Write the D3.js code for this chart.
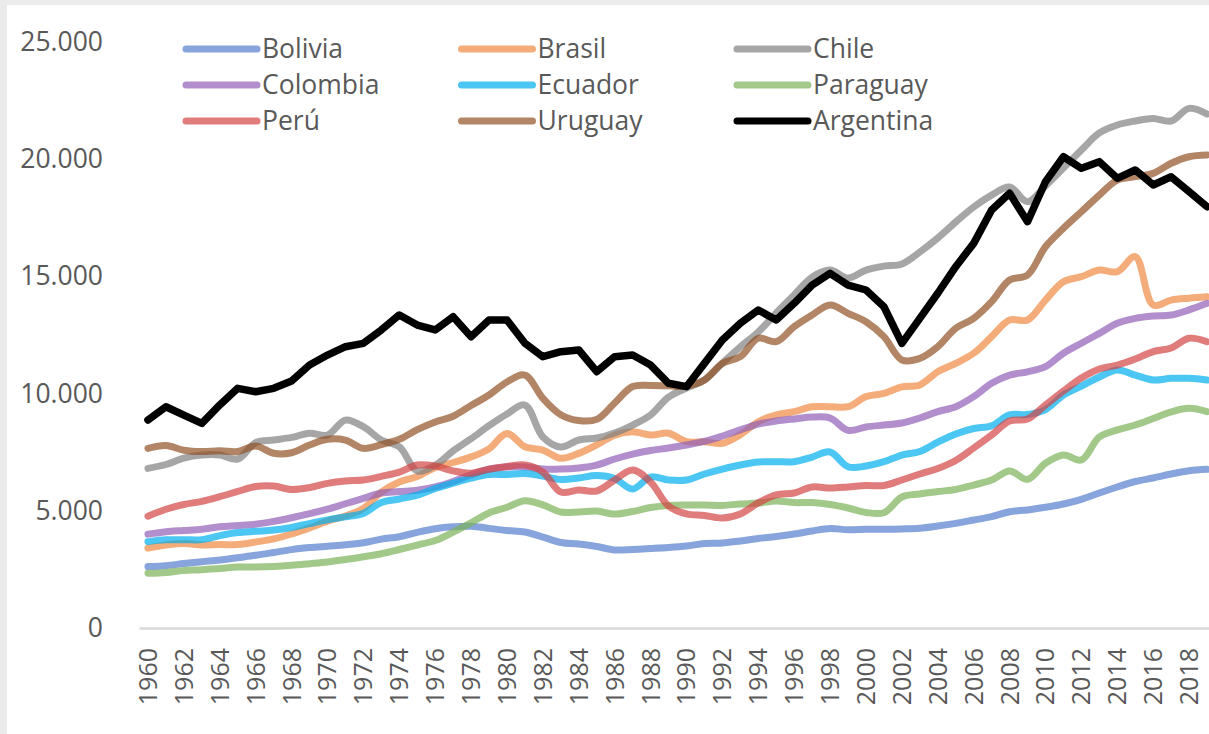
<!DOCTYPE html>
<html>
<head>
<meta charset="utf-8">
<script src="https://cdn.jsdelivr.net/npm/d3@7"></script>
<style>
    html, body { margin: 0; padding: 0; background: #ebebeb; }
    svg { display: block; }
    text { font-family: "Open Sans", sans-serif; fill: #595959; }
</style>
</head>
<body>
<svg id="chart" width="1209" height="734"></svg>
<script>
"use strict";

var years = d3.range(1960, 2020);
var yTicks = [0, 5000, 10000, 15000, 20000, 25000];

var bolivia = [2620, 2660, 2750, 2830, 2900, 3000, 3100, 3220, 3345, 3430,
    3490, 3550, 3640, 3790, 3895, 4080, 4235, 4315, 4340, 4250,
    4160, 4095, 3880, 3650, 3585, 3475, 3330, 3350, 3390, 3435,
    3500, 3605, 3625, 3710, 3820, 3905, 4010, 4140, 4245, 4190,
    4210, 4210, 4225, 4255, 4350, 4465, 4605, 4750, 4960, 5035,
    5150, 5290, 5490, 5760, 6015, 6250, 6400, 6570, 6710, 6770];
var brasil = [3410, 3540, 3610, 3540, 3560, 3560, 3670, 3800, 4010, 4270,
    4560, 4780, 5100, 5800, 6230, 6460, 6850, 7060, 7300, 7640,
    8300, 7730, 7590, 7240, 7450, 7810, 8230, 8370, 8230, 8310,
    7950, 7950, 7880, 8250, 8800, 9090, 9230, 9440, 9440, 9440,
    9870, 10010, 10290, 10370, 10930, 11290, 11720, 12430, 13140, 13140,
    13990, 14770, 14990, 15270, 15200, 15840, 13780, 13990, 14070, 14130];
var chile = [6810, 6975, 7250, 7380, 7380, 7210, 7910, 8020, 8130, 8310,
    8230, 8870, 8590, 8020, 7730, 6700, 6945, 7555, 8075, 8630,
    9130, 9510, 8150, 7720, 8020, 8105, 8320, 8660, 9090, 9850,
    10240, 10580, 11300, 11990, 12630, 13440, 14210, 14970, 15270, 14930,
    15270, 15440, 15530, 16040, 16640, 17320, 17960, 18470, 18810, 18190,
    18860, 19620, 20390, 21120, 21460, 21630, 21740, 21630, 22170, 21930];
var colombia = [4005, 4110, 4160, 4210, 4320, 4370, 4430, 4550, 4705, 4880,
    5070, 5300, 5530, 5760, 5820, 5880, 6020, 6250, 6540, 6780,
    6870, 6870, 6780, 6780, 6830, 6950, 7210, 7420, 7570, 7680,
    7810, 7960, 8190, 8450, 8700, 8830, 8920, 9000, 8960, 8430,
    8575, 8660, 8745, 8960, 9230, 9440, 9870, 10440, 10790, 10930,
    11150, 11720, 12150, 12570, 13000, 13210, 13310, 13350, 13570, 13850];
var ecuador = [3685, 3760, 3770, 3770, 3940, 4070, 4125, 4180, 4290, 4455,
    4615, 4740, 4890, 5355, 5505, 5665, 5950, 6180, 6390, 6545,
    6550, 6590, 6480, 6335, 6400, 6505, 6380, 5930, 6440, 6315,
    6315, 6570, 6780, 6955, 7080, 7095, 7095, 7295, 7510, 6880,
    6910, 7095, 7380, 7530, 7930, 8280, 8510, 8630, 9090, 9110,
    9320, 9940, 10320, 10710, 11010, 10790, 10580, 10650, 10650, 10580];
var paraguay = [2335, 2370, 2455, 2485, 2540, 2600, 2600, 2625, 2675, 2745,
    2820, 2920, 3040, 3170, 3350, 3540, 3730, 4090, 4490, 4910,
    5150, 5430, 5250, 4950, 4950, 4990, 4860, 4970, 5140, 5230,
    5250, 5250, 5230, 5290, 5330, 5420, 5350, 5350, 5270, 5120,
    4930, 4920, 5590, 5720, 5820, 5910, 6100, 6310, 6700, 6340,
    7030, 7380, 7170, 8150, 8450, 8660, 8940, 9220, 9370, 9230];
var peru = [4770, 5065, 5270, 5405, 5605, 5825, 6035, 6055, 5910, 5990,
    6170, 6270, 6315, 6470, 6650, 6955, 6910, 6705, 6605, 6775,
    6890, 6955, 6655, 5800, 5890, 5845, 6315, 6740, 6230, 5205,
    4865, 4800, 4690, 4865, 5335, 5675, 5760, 6015, 5970, 6015,
    6080, 6080, 6315, 6570, 6805, 7145, 7680, 8235, 8830, 8915,
    9515, 10110, 10665, 11050, 11220, 11475, 11790, 11945, 12360, 12215];
var uruguay = [7665, 7785, 7580, 7525, 7565, 7530, 7765, 7455, 7475, 7805,
    8050, 8015, 7665, 7820, 8050, 8460, 8790, 9035, 9495, 9940,
    10495, 10790, 9800, 9100, 8850, 8900, 9600, 10300, 10350, 10330,
    10320, 10580, 11290, 11575, 12360, 12215, 12855, 13355, 13780, 13425,
    13065, 12430, 11435, 11505, 12000, 12785, 13210, 13920, 14845, 15060,
    16265, 17050, 17760, 18470, 19110, 19255, 19395, 19825, 20105, 20180];
var argentina = [8875, 9440, 9085, 8730, 9515, 10225, 10080, 10225, 10535, 11220,
    11645, 12000, 12145, 12715, 13355, 12925, 12715, 13280, 12425, 13140,
    13140, 12145, 11575, 11790, 11860, 10935, 11575, 11645, 11220, 10440,
    10295, 11290, 12285, 13000, 13565, 13140, 13850, 14630, 15130, 14630,
    14420, 13705, 12145, 13210, 14280, 15415, 16410, 17830, 18545, 17335,
    19040, 20105, 19610, 19895, 19185, 19540, 18900, 19250, 18615, 17975];

var names = ["Bolivia", "Brasil", "Chile", "Colombia", "Ecuador",
    "Paraguay", "Perú", "Uruguay", "Argentina"];
var colors = ["#547ecd", "#ef8941", "#808080", "#9160b6", "#00aeec",
    "#7ab258", "#d34545", "#925125", "#000000"];
var valueLists = [bolivia, brasil, chile, colombia, ecuador,
    paraguay, peru, uruguay, argentina];

var series = names.map(function (name, i) {
    return {
        name: name,
        color: colors[i],
        smooth: name !== "Argentina",
        values: valueLists[i].map(function (v, j) {
            return {year: years[j], value: v};
        })
    };
});

var svg = d3.select("#chart"),
    width = 1209,
    height = 734,
    plotLeft = 139,
    plotRight = 1216,
    plotBottom = 628,
    plotTop = 42;

// white chart area, grey frame shows on top and left
svg.append("rect")
    .attr("x", 7).attr("y", 5)
    .attr("width", width - 7).attr("height", height - 5)
    .attr("fill", "#ffffff");

var x = d3.scaleBand().domain(years).range([plotLeft, plotRight]),
    y = d3.scaleLinear().domain([0, 25000]).range([plotBottom, plotTop]),
    cx = function (d) { return x(d) + x.bandwidth() / 2; };

var fmt = d3.formatLocale({
    decimal: ",", thousands: ".", grouping: [3], currency: ["", ""]
}).format(",d");

var yAxis = svg.append("g")
    .attr("transform", "translate(" + plotLeft + ",0)")
    .call(d3.axisLeft(y).tickValues(yTicks).tickFormat(fmt)
        .tickSize(0).tickPadding(36));
yAxis.select(".domain").remove();
yAxis.selectAll("text")
    .attr("font-size", 26.5)
    .attr("font-family", "Open Sans, sans-serif")
    .attr("fill", "#595959");

var xAxis = svg.append("g")
    .attr("transform", "translate(0," + plotBottom + ")")
    .call(d3.axisBottom(x)
        .tickValues(years.filter(function (d) { return d % 2 === 0; }))
        .tickSize(0).tickSizeOuter(0));
xAxis.select(".domain")
    .attr("stroke", "#d9d9d9")
    .attr("stroke-width", 2.5);
xAxis.selectAll("text")
    .attr("font-size", 25)
    .attr("font-family", "Open Sans, sans-serif")
    .attr("fill", "#595959")
    .attr("transform", "rotate(-90)")
    .attr("text-anchor", "end")
    .attr("x", -20)
    .attr("y", 0)
    .attr("dy", "0.36em");

var smoothLine = d3.line()
        .x(function (d) { return cx(d.year); })
        .y(function (d) { return y(d.value); })
        .curve(d3.curveCatmullRom.alpha(0.5)),
    straightLine = d3.line()
        .x(function (d) { return cx(d.year); })
        .y(function (d) { return y(d.value); });

svg.append("g").selectAll("path")
    .data(series)
    .join("path")
    .attr("d", function (d) {
        return d.smooth ? smoothLine(d.values) : straightLine(d.values);
    })
    .attr("fill", "none")
    .attr("stroke", function (d) { return d.color; })
    .attr("stroke-opacity", function (d) { return d.smooth ? 0.7 : 1; })
    .attr("stroke-width", function (d) { return d.smooth ? 7 : 7.5; })
    .attr("stroke-linejoin", "round")
    .attr("stroke-linecap", "round");

// legend: 3 columns x 3 rows
var legend = svg.append("g").selectAll("g")
    .data(series)
    .join("g")
    .attr("transform", function (d, i) {
        return "translate(" + (186 + (i % 3) * 275.5) + "," +
            (49 + Math.floor(i / 3) * 36) + ")";
    });

legend.append("line")
    .attr("x1", 0).attr("x2", 71)
    .attr("stroke", function (d) { return d.color; })
    .attr("stroke-opacity", function (d) { return d.smooth ? 0.7 : 1; })
    .attr("stroke-width", 7)
    .attr("stroke-linecap", "round");

legend.append("text")
    .attr("x", 76)
    .attr("dy", "0.35em")
    .attr("font-size", 26.5)
    .text(function (d) { return d.name; });
</script>
</body>
</html>
